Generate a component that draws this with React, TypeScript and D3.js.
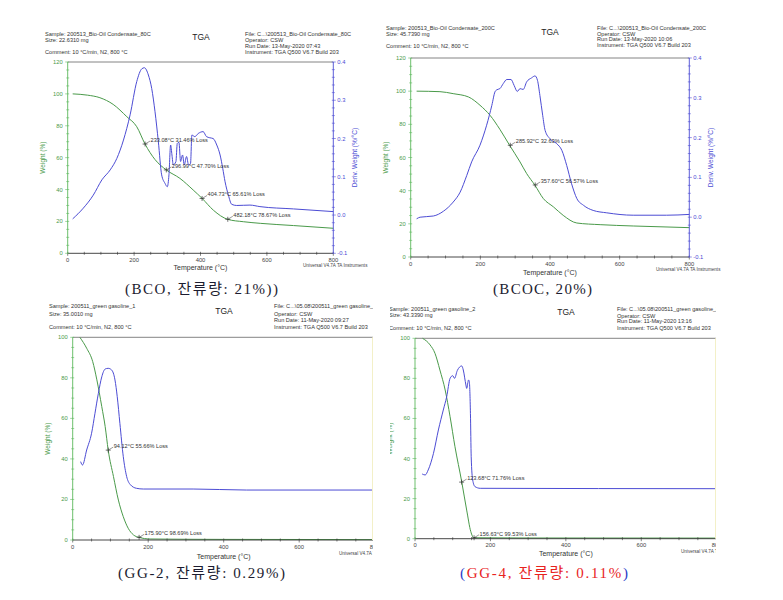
import React from 'react';
import * as d3 from 'd3';

// ---------- shared ticks ----------
const tempTicks = [0, 200, 400, 600, 800];
const weightTicks120 = [0, 20, 40, 60, 80, 100, 120];
const weightTicks100 = [0, 20, 40, 60, 80, 100];
const derivTicks = [-0.1, 0, 0.1, 0.2, 0.3, 0.4];
const derivTickLabels = ['-0.1', '0.0', '0.1', '0.2', '0.3', '0.4'];

// ---------- BCO ----------
const bcoWeightT = [15, 60, 97, 137, 178, 208, 233, 263, 297, 338, 378, 405, 439, 482, 530, 580, 680, 800];
const bcoWeight = [100, 99.2, 97.6, 93.4, 85.7, 79.4, 68.5, 58.8, 52.3, 47, 39.7, 34.4, 27, 21.3, 19.8, 18.8, 17.4, 15.7];
const bcoDerivT = [15, 47, 77, 103, 128, 148, 168, 188, 208, 223, 231, 243, 253, 263, 273, 283, 293, 300, 305, 310, 314, 318, 326, 330, 335, 340, 346, 351, 358, 364, 370, 374, 383, 393, 408, 418, 428, 438, 449, 459, 467, 474, 484, 494, 509, 549, 579, 680, 800];
const bcoDeriv = [-0.01, 0.018, 0.052, 0.092, 0.118, 0.148, 0.196, 0.262, 0.349, 0.382, 0.385, 0.366, 0.331, 0.27, 0.192, 0.105, 0.083, 0.074, 0.105, 0.183, 0.157, 0.131, 0.14, 0.187, 0.19, 0.14, 0.157, 0.131, 0.153, 0.131, 0.135, 0.209, 0.205, 0.213, 0.218, 0.205, 0.202, 0.2, 0.183, 0.157, 0.122, 0.087, 0.052, 0.028, 0.025, 0.026, 0.022, 0.016, 0.009];
const bcoMarkT = [233.08, 296.99, 404.73, 482.18];
const bcoMarkLoss = [31.46, 47.7, 65.61, 78.67];
const bcoHeaderLeft = ['Sample: 200513_Bio-Oil Condensate_80C', 'Size: 22.6310 mg', 'Comment: 10 °C/min, N2, 800 °C'];
const bcoHeaderRight = ['File: C...\\200513_Bio-Oil Condensate_80C', 'Operator: CSW', 'Run Date: 13-May-2020 07:43', 'Instrument: TGA Q500 V6.7 Build 203'];

// ---------- BCOC ----------
const bcocWeightT = [17, 84, 122, 166, 199, 228, 256, 283, 314, 333, 357, 381, 410, 438, 477, 544, 639, 800];
const bcocWeight = [100, 99.7, 98.5, 96.5, 91.5, 85.4, 77, 67.7, 57.3, 50.3, 43.2, 35.2, 30.2, 25.1, 20.5, 19.5, 18.7, 17.7];
const bcocDerivT = [17, 27, 65, 94, 122, 142, 161, 175, 199, 218, 233, 242, 247, 256, 266, 276, 288, 297, 306, 314, 323, 333, 347, 357, 364, 371, 379, 386, 400, 419, 434, 448, 462, 477, 496, 524, 563, 639, 735, 800];
const bcocDeriv = [-0.004, 0, 0.003, 0.015, 0.038, 0.063, 0.105, 0.139, 0.181, 0.231, 0.281, 0.315, 0.32, 0.323, 0.336, 0.346, 0.346, 0.331, 0.316, 0.323, 0.321, 0.34, 0.35, 0.355, 0.344, 0.306, 0.256, 0.218, 0.197, 0.185, 0.168, 0.13, 0.084, 0.047, 0.03, 0.017, 0.011, 0.005, 0.005, 0.007];
const bcocMarkT = [285.92, 357.6];
const bcocMarkLoss = [32.63, 56.57];
const bcocHeaderLeft = ['Sample: 200513_Bio-Oil Condensate_200C', 'Size: 45.7390 mg', 'Comment: 10 °C/min, N2, 800 °C'];
const bcocHeaderRight = ['File: C...\\200513_Bio-Oil Condensate_200C', 'Operator: CSW', 'Run Date: 13-May-2020 10:06', 'Instrument: TGA Q500 V6.7 Build 203'];

// ---------- GG-2 ----------
const gg2WeightT = [19, 37, 53, 64, 77, 86, 94, 108, 121, 134, 147, 161, 176, 205, 400, 800];
const gg2Weight = [100, 94.6, 88, 79, 65.8, 56, 44.4, 31.3, 19.7, 11.5, 5.8, 2.5, 1.3, 0.5, 0.3, 0.2];
const gg2DerivT = [21, 26, 37, 50, 59, 68, 77, 86, 94, 103, 112, 118, 125, 134, 143, 152, 169, 187, 319, 460, 800];
const gg2Deriv = [0.273, 0.24, 0.388, 0.553, 0.75, 0.947, 1.11, 1.187, 1.194, 1.178, 1.079, 0.914, 0.651, 0.322, 0.125, 0.049, 0.01, 0.003, 0.003, -0.007, -0.007];
const gg2MarkT = [94.12, 175.9];
const gg2MarkLoss = [55.66, 98.69];
const gg2HeaderLeft = ['Sample: 200511_green gasoline_1', 'Size: 35.0010 mg', 'Comment: 10 °C/min, N2, 800 °C'];
const gg2HeaderRight = ['File: C...\\05.08\\200511_green gasoline_1', 'Operator: CSW', 'Run Date: 11-May-2020 09:27', 'Instrument: TGA Q500 V6.7 Build 203'];

// ---------- GG-4 ----------
const gg4WeightT = [20, 40, 53, 66, 80, 93, 106, 124, 137, 148, 156, 300, 800];
const gg4Weight = [100, 96.7, 92.5, 84.2, 74.2, 60.9, 45.9, 28.3, 14.3, 3.5, 0.47, 0.35, 0.3];
const gg4DerivT = [19, 27, 35, 49, 62, 75, 84, 93, 100, 105, 112, 124, 128, 135, 137, 142, 144, 147, 149, 153, 159, 173, 800];
const gg4Deriv = [0.146, 0.136, 0.186, 0.352, 0.585, 0.784, 0.917, 1.1, 1.127, 1.1, 1.177, 1.224, 1.184, 1.034, 1.0, 1.084, 1.068, 0.751, 0.318, 0.086, 0.02, 0.003, -0.001];
const gg4MarkT = [123.68, 156.63];
const gg4MarkLoss = [71.76, 99.53];
const gg4HeaderLeft = ['Sample: 200511_green gasoline_2', 'Size: 43.3390 mg', 'Comment: 10 °C/min, N2, 800 °C'];
const gg4HeaderRight = ['File: C...\\05.08\\200511_green gasoline_2', 'Operator: CSW', 'Run Date: 11-May-2020 13:16', 'Instrument: TGA Q500 V6.7 Build 203'];

const GREEN = '#4a9a4a';
const GREEN_AXIS = '#5cb85c';
const BLUE = '#4c4cd4';
const FONT = 'Liberation Sans, Arial, sans-serif';

type Cfg = {
  id: string;
  x0: number; x1: number; yTop: number; yBot: number;
  wMax: number; wTicks: number[];
  dDomain: [number, number]; showRight: boolean;
  clip?: [number, number];
  weightT: number[]; weight: number[]; derivT: number[]; deriv: number[];
  markT: number[]; markLoss: number[];
  hl: string[]; hlX: number; hlY: number[];
  hr: string[]; hrX: number; hrY: number[];
  tgaX: number; tgaY: number;
  xLabelY: number; uniX: number; uniY: number; uniText: string;
};

const Panel: React.FC<{ c: Cfg }> = ({ c }) => {
  const x = d3.scaleLinear().domain([0, 800]).range([c.x0, c.x1]);
  const y = d3.scaleLinear().domain([0, c.wMax]).range([c.yBot, c.yTop]);
  const yd = d3.scaleLinear().domain(c.dDomain).range([c.yBot, c.yTop]);
  const line = d3.line<[number, number]>().x(d => d[0]).y(d => d[1]).curve(d3.curveMonotoneX);
  const wPath = line(c.weightT.map((t, i) => [x(t), y(c.weight[i])] as [number, number])) || '';
  const dPath = line(c.derivT.map((t, i) => [x(t), yd(c.deriv[i])] as [number, number])) || '';
  const minorX = d3.range(0, 801, 50);
  const minorW = d3.range(0, c.wMax + 0.01, 5);
  const minorD = d3.range(-0.1, 0.4001, 0.02);
  const plotRight = c.clip ? Math.min(c.x1, c.clip[1]) : c.x1;
  const cy = (c.yTop + c.yBot) / 2;
  const clipId = 'clip-' + c.id;
  return (
    <g clipPath={c.clip ? `url(#${clipId})` : undefined} fontFamily={FONT}>
      {c.clip && (
        <defs>
          <clipPath id={clipId}>
            <rect x={c.clip[0]} y={0} width={c.clip[1] - c.clip[0]} height={600} />
          </clipPath>
        </defs>
      )}
      {/* header */}
      {c.hl.map((s, i) => (
        <text key={'hl' + i} x={c.hlX} y={c.hlY[i]} fontSize={5.6} fill="#333">{s}</text>
      ))}
      {c.hr.map((s, i) => (
        <text key={'hr' + i} x={c.hrX} y={c.hrY[i]} fontSize={5.6} fill="#333">{s}</text>
      ))}
      <text x={c.tgaX} y={c.tgaY} fontSize={8.5} textAnchor="middle" fill="#222">TGA</text>
      {/* frame top */}
      <line x1={c.x0} x2={plotRight} y1={c.yTop} y2={c.yTop} stroke="#666" strokeWidth={0.8} />
      {/* curves */}
      <path d={wPath} fill="none" stroke={GREEN} strokeWidth={1} />
      <path d={dPath} fill="none" stroke={BLUE} strokeWidth={1} />
      {/* markers */}
      {c.markT.map((t, i) => {
        const px = x(t), py = y(100 - c.markLoss[i]);
        return (
          <g key={'m' + i}>
            <line x1={px - 2.5} x2={px + 2.5} y1={py} y2={py} stroke="#333" strokeWidth={0.7} />
            <line x1={px} x2={px} y1={py - 2.5} y2={py + 2.5} stroke="#333" strokeWidth={0.7} />
            <line x1={px} x2={px + 5} y1={py} y2={py - 3} stroke="#333" strokeWidth={0.5} />
            <text x={px + 5.5} y={py - 2} fontSize={5.6} fill="#333">
              {`${t.toFixed(2)}°C ${c.markLoss[i].toFixed(2)}% Loss`}
            </text>
          </g>
        );
      })}
      {/* bottom axis */}
      <line x1={c.x0} x2={plotRight} y1={c.yBot} y2={c.yBot} stroke="#333" strokeWidth={0.9} />
      {minorX.map(v => (
        <line key={'mx' + v} x1={x(v)} x2={x(v)} y1={c.yBot - 1.5} y2={c.yBot + (v % 200 === 0 ? 2.5 : 1.5)} stroke="#333" strokeWidth={0.6} />
      ))}
      {tempTicks.map(v => (
        <text key={'tx' + v} x={x(v)} y={c.yBot + 8.5} fontSize={5.8} textAnchor="middle" fill="#444">{v}</text>
      ))}
      <text x={(c.x0 + c.x1) / 2} y={c.xLabelY} fontSize={7} textAnchor="middle" fill="#333">Temperature (°C)</text>
      <text x={c.uniX} y={c.uniY} fontSize={4.6} fill="#444">{c.uniText}</text>
      {/* left axis */}
      <line x1={c.x0} x2={c.x0} y1={c.yTop} y2={c.yBot} stroke={GREEN_AXIS} strokeWidth={0.9} />
      {minorW.map(v => (
        <line key={'mw' + v} x1={c.x0 - (v % 20 === 0 ? 2.5 : 1.5)} x2={c.x0 + 1.5} y1={y(v)} y2={y(v)} stroke={GREEN_AXIS} strokeWidth={0.6} />
      ))}
      {c.wTicks.map(v => (
        <text key={'tw' + v} x={c.x0 - 5} y={y(v) + 2} fontSize={5.8} textAnchor="end" fill={GREEN}>{v}</text>
      ))}
      <text transform={`translate(${c.x0 - 23},${cy}) rotate(-90)`} fontSize={6.5} textAnchor="middle" fill={GREEN}>Weight (%)</text>
      {/* right axis */}
      {c.showRight && (
        <g>
          <line x1={c.x1} x2={c.x1} y1={c.yTop} y2={c.yBot} stroke={BLUE} strokeWidth={0.9} />
          {minorD.map((v, i) => (
            <line key={'md' + i} x1={c.x1 - 1.5} x2={c.x1 + (i % 5 === 0 ? 2.5 : 1.5)} y1={yd(v)} y2={yd(v)} stroke={BLUE} strokeWidth={0.6} />
          ))}
          {derivTicks.map((v, i) => (
            <text key={'td' + i} x={c.x1 + 4} y={yd(v) + 2} fontSize={5.8} fill={BLUE}>{derivTickLabels[i]}</text>
          ))}
          <text transform={`translate(${c.x1 + 24},${cy}) rotate(-90)`} fontSize={6.5} textAnchor="middle" fill={BLUE}>Deriv. Weight (%/°C)</text>
        </g>
      )}
      {c.clip && (
        <line x1={c.clip[1] - 0.5} x2={c.clip[1] - 0.5} y1={c.yTop} y2={c.yBot} stroke="#f3f0c8" strokeWidth={1} />
      )}
    </g>
  );
};

const panels: Cfg[] = [
  {
    id: 'bco', x0: 67.7, x1: 333.3, yTop: 62, yBot: 253.3, wMax: 120, wTicks: weightTicks120,
    dDomain: [-0.1, 0.4], showRight: true,
    weightT: bcoWeightT, weight: bcoWeight, derivT: bcoDerivT, deriv: bcoDeriv,
    markT: bcoMarkT, markLoss: bcoMarkLoss,
    hl: bcoHeaderLeft, hlX: 45, hlY: [36, 42, 54],
    hr: bcoHeaderRight, hrX: 245, hrY: [36, 42, 48, 53.5],
    tgaX: 201, tgaY: 40, xLabelY: 270, uniX: 303, uniY: 267, uniText: 'Universal V4.7A TA Instruments',
  },
  {
    id: 'bcoc', x0: 410.7, x1: 689.3, yTop: 58, yBot: 257, wMax: 120, wTicks: weightTicks120,
    dDomain: [-0.1, 0.4], showRight: true,
    weightT: bcocWeightT, weight: bcocWeight, derivT: bcocDerivT, deriv: bcocDeriv,
    markT: bcocMarkT, markLoss: bcocMarkLoss,
    hl: bcocHeaderLeft, hlX: 386, hlY: [30, 35.5, 48],
    hr: bcocHeaderRight, hrX: 597, hrY: [30, 36, 41, 47],
    tgaX: 550, tgaY: 35, xLabelY: 275, uniX: 656, uniY: 271, uniText: 'Universal V4.7A TA Instruments',
  },
  {
    id: 'gg2', x0: 72.7, x1: 374.7, yTop: 337.3, yBot: 540, wMax: 100, wTicks: weightTicks100,
    dDomain: [-0.5, 1.5], showRight: false, clip: [0, 373],
    weightT: gg2WeightT, weight: gg2Weight, derivT: gg2DerivT, deriv: gg2Deriv,
    markT: gg2MarkT, markLoss: gg2MarkLoss,
    hl: gg2HeaderLeft, hlX: 49, hlY: [308, 316, 329],
    hr: gg2HeaderRight, hrX: 274, hrY: [308, 316, 322, 328.5],
    tgaX: 224, tgaY: 314, xLabelY: 559, uniX: 339, uniY: 555, uniText: 'Universal V4.7A TA Instruments',
  },
  {
    id: 'gg4', x0: 415, x1: 716.7, yTop: 338.3, yBot: 538.7, wMax: 100, wTicks: weightTicks100,
    dDomain: [-0.5, 1.5], showRight: false, clip: [390, 716],
    weightT: gg4WeightT, weight: gg4Weight, derivT: gg4DerivT, deriv: gg4Deriv,
    markT: gg4MarkT, markLoss: gg4MarkLoss,
    hl: gg4HeaderLeft, hlX: 389, hlY: [311, 317, 330],
    hr: gg4HeaderRight, hrX: 617, hrY: [311, 318, 323, 330],
    tgaX: 566, tgaY: 315, xLabelY: 556, uniX: 681, uniY: 553, uniText: 'Universal V4.7A TA Instruments',
  },
];

const CAP_FONT = 'Liberation Serif, "Noto Sans CJK KR", serif';
const CAP_COLOR = '#1c1c30';

export default function App() {
  return (
    <svg width={783} height={600} style={{ position: 'absolute', left: 0, top: 0, background: '#fff' }}>
      <rect x={0} y={0} width={783} height={600} fill="#fff" />
      {panels.map(p => <Panel key={p.id} c={p} />)}
      <text x={125} y={294} fontSize={15} fontFamily={CAP_FONT} fill={CAP_COLOR} textLength={153} lengthAdjust="spacing">(BCO, 잔류량: 21%))</text>
      <text x={493} y={294} fontSize={15} fontFamily={CAP_FONT} fill={CAP_COLOR} textLength={99} lengthAdjust="spacing">(BCOC, 20%)</text>
      <text x={118} y={578} fontSize={15} fontFamily={CAP_FONT} fill={CAP_COLOR} textLength={167} lengthAdjust="spacing">(GG-2, 잔류량: 0.29%)</text>
      <text x={460} y={578} fontSize={15} fontFamily={CAP_FONT} fill="#2a3cc8" textLength={168} lengthAdjust="spacing">
        (<tspan fill="#e8231e">GG-4, 잔류량: 0.11%</tspan>)
      </text>
    </svg>
  );
}
